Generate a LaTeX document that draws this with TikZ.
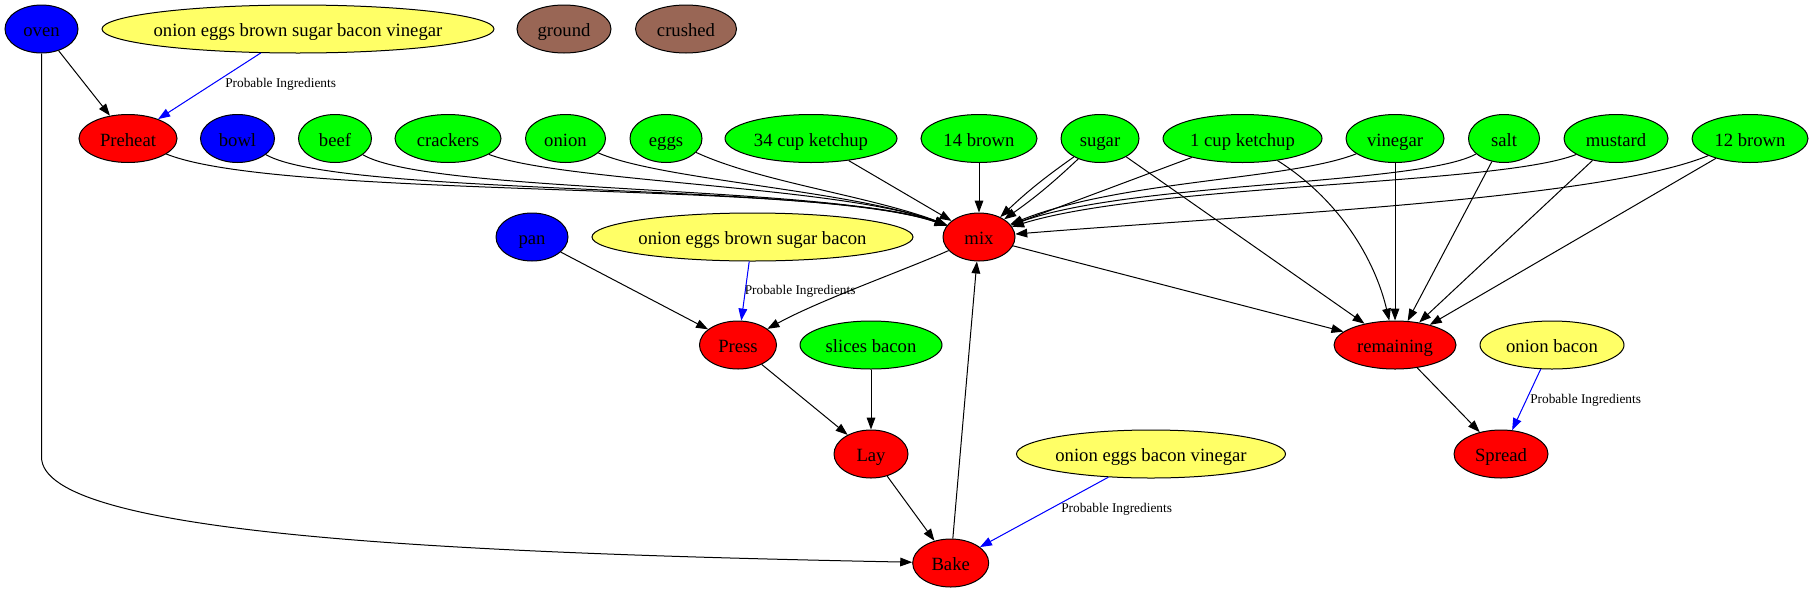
\documentclass[tikz,border=0pt]{standalone}
\usepackage{fontspec}
\setmainfont{Liberation Serif}
\usetikzlibrary{arrows.meta,shapes.geometric}
\definecolor{gfill}{RGB}{0,255,0}
\definecolor{rfill}{RGB}{255,0,0}
\definecolor{bfill}{RGB}{0,0,255}
\definecolor{yfill}{RGB}{255,255,102}
\definecolor{brfill}{RGB}{153,102,85}
\newcommand{\mb}[1]{\makebox[0pt]{#1}}
\tikzset{
  nd/.style={ellipse, draw=black, line width=0.75pt, inner sep=0pt, minimum height=36pt, text height=11.5pt, text depth=0pt, font=\fontsize{14}{16}\selectfont},
  w/.style={minimum width=#1*1.5pt},
  gn/.style={nd, fill=gfill},
  rn/.style={nd, fill=rfill},
  bn/.style={nd, fill=bfill},
  yn/.style={nd, fill=yfill},
  brn/.style={nd, fill=brfill},
  e/.style={draw=black, line width=0.75pt, -{Triangle[length=9pt,width=6.5pt]}},
  pe/.style={e, draw=blue, fill=blue},
  lab/.style={anchor=west, inner sep=0pt, font=\fontsize{10}{12}\selectfont}
}
\begin{document}
\begin{tikzpicture}[x=0.75pt,y=-0.75pt]
\useasboundingbox (0,0) rectangle (1813,593);
% row 1
\node[bn,w=36.5] (oven) at (41.5,29) {\mb{oven}};
\node[yn,w=196] (y1) at (298,29) {\mb{onion eggs brown sugar bacon vinegar}};
\node[brn,w=47] (ground) at (564,29) {\mb{ground}};
\node[brn,w=50.5] (crushed) at (686,29) {\mb{crushed}};
% row 2
\node[rn,w=49] (preheat) at (128,138.5) {\mb{Preheat}};
\node[bn,w=37] (bowl) at (237.5,138.5) {\mb{bowl}};
\node[gn,w=36.5] (beef) at (335,138.5) {\mb{beef}};
\node[gn,w=53] (crackers) at (448,138.5) {\mb{crackers}};
\node[gn,w=40] (onion) at (565.5,138.5) {\mb{onion}};
\node[gn,w=36] (eggs) at (666,138.5) {\mb{eggs}};
\node[gn,w=86] (k34) at (811,138.5) {\mb{34 cup ketchup}};
\node[gn,w=58] (b14) at (979,138.5) {\mb{14 brown}};
\node[gn,w=39] (sugar) at (1100,138.5) {\mb{sugar}};
\node[gn,w=79.5] (k1) at (1242.5,138.5) {\mb{1 cup ketchup}};
\node[gn,w=49] (vinegar) at (1395,138.5) {\mb{vinegar}};
\node[gn,w=35.5] (salt) at (1504,138.5) {\mb{salt}};
\node[gn,w=52] (mustard) at (1616,138.5) {\mb{mustard}};
\node[gn,w=58] (b12) at (1750,138.5) {\mb{12 brown}};
% row 3
\node[bn,w=36] (pan) at (532,237) {\mb{pan}};
\node[yn,w=160.5] (y2) at (752.5,237) {\mb{onion eggs brown sugar bacon}};
\node[rn,w=36] (mix) at (979,237) {\mb{mix}};
% row 4
\node[rn,w=38.5] (press) at (738,345) {\mb{Press}};
\node[gn,w=71] (slices) at (871,345) {\mb{slices bacon}};
\node[rn,w=61] (remaining) at (1395,345) {\mb{remaining}};
\node[yn,w=72] (ob) at (1552,345) {\mb{onion bacon}};
% row 5
\node[rn,w=37] (lay) at (871,454) {\mb{Lay}};
\node[yn,w=134.5] (y3) at (1151,454) {\mb{onion eggs bacon vinegar}};
\node[rn,w=47] (spread) at (1501,454) {\mb{Spread}};
% row 6
\node[rn,w=38] (bake) at (950.7,563) {\mb{Bake}};
% labels
\node[lab] (l1) at (225,84) {Probable Ingredients};
\node[lab] (l2) at (744.5,291) {Probable Ingredients};
\node[lab] (l3) at (1061,509) {Probable Ingredients};
\node[lab] (l4) at (1530,400) {Probable Ingredients};
% edges
\draw[e] (oven) -- (preheat);
\draw[pe] (y1) -- (preheat);
\draw[e] (oven) -- (41.5,457) .. controls (41.5,535) and (450,553) .. (bake);
\draw[e] (preheat) .. controls (280,200) and (820,180) .. (mix);
\draw[e] (bowl) .. controls (340,197) and (820,182) .. (mix);
\draw[e] (beef) .. controls (430,194) and (830,185) .. (mix);
\draw[e] (crackers) .. controls (560,182) and (840,186) .. (mix);
\draw[e] (onion) .. controls (660,180) and (850,190) .. (mix);
\draw[e] (eggs) .. controls (760,182) and (870,196) .. (mix);
\draw[e] (k34) -- (mix);
\draw[e] (b14) -- (mix);
\draw[e] (sugar) to[bend right=4] (mix);
\draw[e] (sugar) to[bend left=4] (mix);
\draw[e] (sugar) -- (remaining);
\draw[e] (k1) -- (mix);
\draw[e] (k1) .. controls (1340,200) and (1375,260) .. (remaining);
\draw[e] (vinegar) .. controls (1290,180) and (1120,180) .. (mix);
\draw[e] (vinegar) -- (remaining);
\draw[e] (salt) .. controls (1420,185) and (1130,182) .. (mix);
\draw[e] (salt) -- (remaining);
\draw[e] (mustard) .. controls (1500,185) and (1150,184) .. (mix);
\draw[e] (mustard) -- (remaining);
\draw[e] (b12) .. controls (1600,200) and (1250,215) .. (mix);
\draw[e] (b12) -- (remaining);
\draw[e] (mix) .. controls (905,270) and (820,300) .. (press);
\draw[e] (mix) -- (remaining);
\draw[e] (pan) -- (press);
\draw[pe] (y2) -- (press);
\draw[e] (press) -- (lay);
\draw[e] (slices) -- (lay);
\draw[e] (lay) -- (bake);
\draw[e] (bake) -- (mix);
\draw[pe] (y3) -- (bake);
\draw[e] (remaining) -- (spread);
\draw[pe] (ob) -- (spread);
\end{tikzpicture}
\end{document}
